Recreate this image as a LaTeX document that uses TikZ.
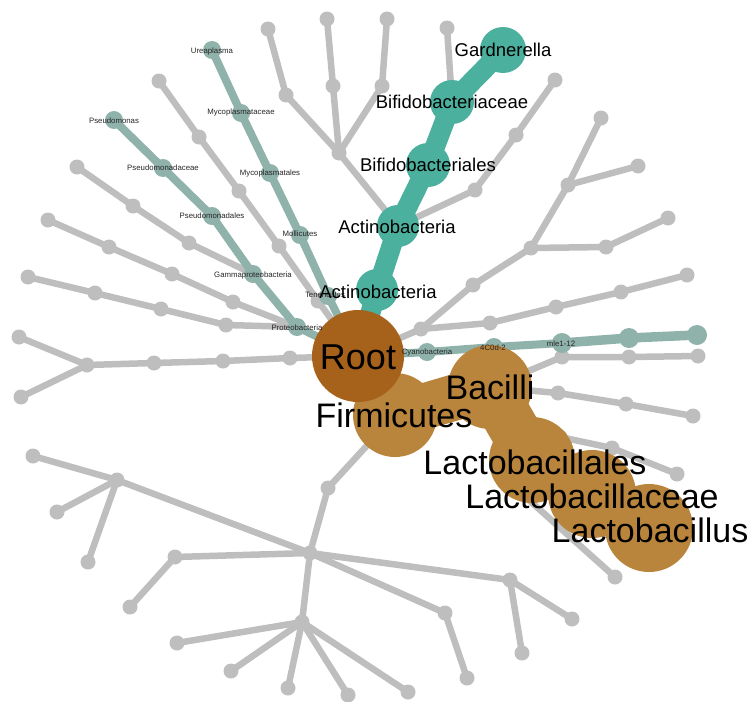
\documentclass[tikz,border=0pt]{standalone}
\usepackage{fontspec}
\setmainfont{Liberation Sans}
\definecolor{gr}{HTML}{BEBEBE}
\definecolor{tg}{HTML}{8FB2AA}
\definecolor{tl}{HTML}{4BB09D}
\definecolor{bl}{HTML}{B9843B}
\definecolor{bd}{HTML}{A6611A}
\tikzset{
  gedge/.style={draw=gr,line width=6.5pt,line cap=round},
  tgedge/.style={draw=tg,line width=8pt,line cap=round},
  tledge/.style={draw=tl,line width=20pt},
  bredge/.style={draw=bl},
  gnode/.style={circle,fill=gr,inner sep=0pt,minimum size=15pt},
  tgnode/.style={circle,fill=tg,inner sep=0pt,minimum size=18pt},
  tlnode/.style={circle,fill=tl,inner sep=0pt,minimum size=44pt},
  blnode/.style={circle,fill=bl,inner sep=0pt,minimum size=86pt},
  bdnode/.style={circle,fill=bd,inner sep=0pt,minimum size=92pt},
  biglbl/.style={inner sep=0pt,font=\fontsize{34}{36}\selectfont},
  midlbl/.style={inner sep=0pt,font=\fontsize{18.5}{20}\selectfont},
  smalllbl/.style={inner sep=0pt,text=black!85,font=\fontsize{7.8}{8}\selectfont},
}
\begin{document}
\begin{tikzpicture}[x=1pt,y=-1pt]
\useasboundingbox (0,0) rectangle (751,701);
% main coordinates
\coordinate (R) at (358,356);
\coordinate (F) at (395,415);
\coordinate (B) at (490,387);
\coordinate (LL) at (532,460);
\coordinate (LC) at (592,494);
\coordinate (LS) at (649,528);
\coordinate (A1) at (377,290);
\coordinate (A2) at (398,226);
\coordinate (BS) at (428,165);
\coordinate (BC) at (452,102);
\coordinate (GA) at (503,50);
\coordinate (PR) at (297,327);
\coordinate (GM) at (253,274);
\coordinate (PL) at (212,216);
\coordinate (PC) at (163,168);
\coordinate (PS) at (114,120);
\coordinate (TE) at (328,296);
\coordinate (MO) at (300,235);
\coordinate (ML) at (270,173);
\coordinate (MC) at (241,113);
\coordinate (UR) at (212,50);
\coordinate (CY) at (427,352);
\coordinate (C4) at (494,347);
\coordinate (ME) at (562,343);
\coordinate (T4) at (629,338);
\coordinate (T5) at (697,335);
% grey coordinates
\foreach \n/\x/\y in {g1a/226/325,g1b/161/309,g1c/95/293,g1d/28/277,
  g2a/233/302,g2b/172/274,g2c/109/247,g2d/48/220,
  g3a/189/243,g3b/133/206,g3c/77/167,
  g4a/318/301,g4b/279/246,g4c/239/191,g4d/199/137,g4e/159/81,
  h5/339/153,g5a/286/95,g5b/268/29,g5c/333/86,g5d/327/19,g5e/382/86,g5f/387/19,
  g6/447/28,g7a/475/190,g7b/516/135,g7c/555/80,
  g8a/421/329,g8b/473/285,g8c/531/248,g8d/568/185,g8e/601/118,g8f/638/166,g8g/606/247,g8h/668/218,
  g9a/490/323,g9b/556/307,g9c/621/292,g9d/687/275,
  g10a/562/357,g10b/629/357,g10c/698/356,
  g11a/558/393,g11b/626/404,g11c/693/416,
  h2/560/437,g12a/612/448,g12b/677/474,
  h/520/492,g13a/615/577,
  g14a/328/488,h14/310/553,
  g15a/117/480,g15b/33/456,g15c/57/512,g15d/88/562,
  g16a/175/557,g16b/130/607,
  g17a/510/580,g17b/572/619,g17c/522/653,
  g18a/445/613,g18b/467/678,
  h19/302/622,g19a/177/643,g19b/231/671,g19c/288/688,g19d/348/695,g19e/408/692,
  g20a/290/358,g20b/223/361,g20c/154/363,g20d/87/365,g20e/19/337,g20f/21/397}
  {\coordinate (\n) at (\x,\y);}
% grey edges
\draw[gedge] (PR) -- (g1a) -- (g1b) -- (g1c) -- (g1d);
\draw[gedge] (PR) -- (g2a) -- (g2b) -- (g2c) -- (g2d);
\draw[gedge] (GM) -- (g3a) -- (g3b) -- (g3c);
\draw[gedge] (R) -- (g4a) -- (g4b) -- (g4c) -- (g4d) -- (g4e);
\draw[gedge] (A2) -- (h5) -- (g5a) -- (g5b);
\draw[gedge] (h5) -- (g5c) -- (g5d);
\draw[gedge] (h5) -- (g5e) -- (g5f);
\draw[gedge] (BC) -- (g6);
\draw[gedge] (A2) -- (g7a) -- (g7b) -- (g7c);
\draw[gedge] (R) -- (g8a) -- (g8b) -- (g8c) -- (g8d) -- (g8e);
\draw[gedge] (g8d) -- (g8f);
\draw[gedge] (g8c) -- (g8g) -- (g8h);
\draw[gedge] (g8a) -- (g9a) -- (g9b) -- (g9c) -- (g9d);
\draw[gedge] (B) -- (g10a) -- (g10b) -- (g10c);
\draw[gedge] (B) -- (g11a) -- (g11b) -- (g11c);
\draw[gedge] (LL) -- (h2) -- (g12a) -- (g12b);
\draw[gedge] (LL) -- (h) -- (g13a);
\draw[gedge] (F) -- (g14a) -- (h14);
\draw[gedge] (h14) -- (g15a) -- (g15b);
\draw[gedge] (g15a) -- (g15c);
\draw[gedge] (g15a) -- (g15d);
\draw[gedge] (h14) -- (g16a) -- (g16b);
\draw[gedge] (h14) -- (g17a) -- (g17b);
\draw[gedge] (g17a) -- (g17c);
\draw[gedge] (h14) -- (g18a) -- (g18b);
\draw[gedge] (h14) -- (h19);
\foreach \n in {g19a,g19b,g19c,g19d,g19e} {\draw[gedge] (h19) -- (\n);}
\draw[gedge] (R) -- (g20a) -- (g20b) -- (g20c) -- (g20d) -- (g20e);
\draw[gedge] (g20d) -- (g20f);
% teal-grey edges
\draw[tgedge] (R) -- (PR) -- (GM) -- (PL) -- (PC) -- (PS);
\draw[tgedge] (R) -- (TE) -- (MO) -- (ML) -- (MC) -- (UR);
\draw[tgedge] (R) -- (CY) -- (C4) -- (ME);
\draw[tgedge,line width=9.5pt] (ME) -- (T4) -- (T5);
% teal edges
\draw[tledge] (R) -- (A1) -- (A2) -- (BS) -- (BC) -- (GA);
% brown edges
\draw[bredge,line width=44pt] (R) -- (F);
\draw[bredge,line width=46pt] (F) -- (B);
\draw[bredge,line width=50pt] (B) -- (LL);
\draw[bredge,line width=52pt] (LL) -- (LC) -- (LS);
% grey nodes
\foreach \n in {g1a,g1b,g1c,g1d,g2a,g2b,g2c,g2d,g3a,g3b,g3c,g4a,g4b,g4c,g4d,g4e,
  h5,g5a,g5b,g5c,g5d,g5e,g5f,g6,g7a,g7b,g7c,g8a,g8b,g8c,g8d,g8e,g8f,g8g,g8h,
  g9a,g9b,g9c,g9d,g10a,g10b,g10c,g11a,g11b,g11c,h2,g12a,g12b,h,g13a,g14a,h14,
  g15a,g15b,g15c,g15d,g16a,g16b,g17a,g17b,g17c,g18a,g18b,h19,g19a,g19b,g19c,g19d,g19e,
  g20a,g20b,g20c,g20d,g20e,g20f}
  {\node[gnode] (n-\n) at (\n) {};}
% teal-grey nodes
\foreach \n in {PR,GM,PL,PC,PS,TE,MO,ML,MC,UR,CY,C4}
  {\node[tgnode] (n-\n) at (\n) {};}
\foreach \n in {ME,T4,T5}
  {\node[tgnode,minimum size=20pt] (n-\n) at (\n) {};}
% teal nodes
\node[tlnode,minimum size=42pt] (n-A1) at (A1) {};
\node[tlnode,minimum size=42pt] (n-A2) at (A2) {};
\node[tlnode] (n-BS) at (BS) {};
\node[tlnode] (n-BC) at (BC) {};
\node[tlnode,minimum size=46pt] (n-GA) at (GA) {};
% brown nodes
\node[blnode,minimum size=84pt] (n-F) at (F) {};
\node[blnode,minimum size=84pt] (n-B) at (B) {};
\node[blnode] (n-LL) at (LL) {};
\node[blnode,minimum size=88pt] (n-LC) at (LC) {};
\node[blnode,minimum size=88pt] (n-LS) at (LS) {};
\node[bdnode] (n-R) at (R) {};
% labels
\node[biglbl,font=\fontsize{36}{38}\selectfont] (l-R) at (358,357) {Root};
\node[biglbl] (l-F) at (394,415) {Firmicutes};
\node[biglbl] (l-B) at (490,387) {Bacilli};
\node[biglbl] (l-LL) at (535,462) {Lactobacillales};
\node[biglbl] (l-LC) at (592,496) {Lactobacillaceae};
\node[biglbl] (l-LS) at (650,530) {Lactobacillus};
\node[midlbl] (l-GA) at (503,50) {Gardnerella};
\node[midlbl] (l-BC) at (452,102) {Bifidobacteriaceae};
\node[midlbl] (l-BS) at (428,165) {Bifidobacteriales};
\node[midlbl] (l-A2) at (397,227) {Actinobacteria};
\node[smalllbl] (l-TE) at (325,295) {Tenericutes};
\node[midlbl] (l-A1) at (378,292) {Actinobacteria};
\node[smalllbl] (l-PR) at (297,328) {Proteobacteria};
\node[smalllbl] (l-GM) at (253,275) {Gammaproteobacteria};
\node[smalllbl] (l-PL) at (212,216) {Pseudomonadales};
\node[smalllbl] (l-PC) at (163,168) {Pseudomonadaceae};
\node[smalllbl] (l-PS) at (114,121) {Pseudomonas};
\node[smalllbl] (l-MO) at (300,234) {Mollicutes};
\node[smalllbl] (l-ML) at (270,173) {Mycoplasmatales};
\node[smalllbl] (l-MC) at (241,112) {Mycoplasmataceae};
\node[smalllbl] (l-UR) at (212,51) {Ureaplasma};
\node[smalllbl] (l-CY) at (427,352) {Cyanobacteria};
\node[smalllbl] (l-C4) at (493,348) {4C0d-2};
\node[smalllbl] (l-ME) at (561,344) {mle1-12};
\end{tikzpicture}
\end{document}
